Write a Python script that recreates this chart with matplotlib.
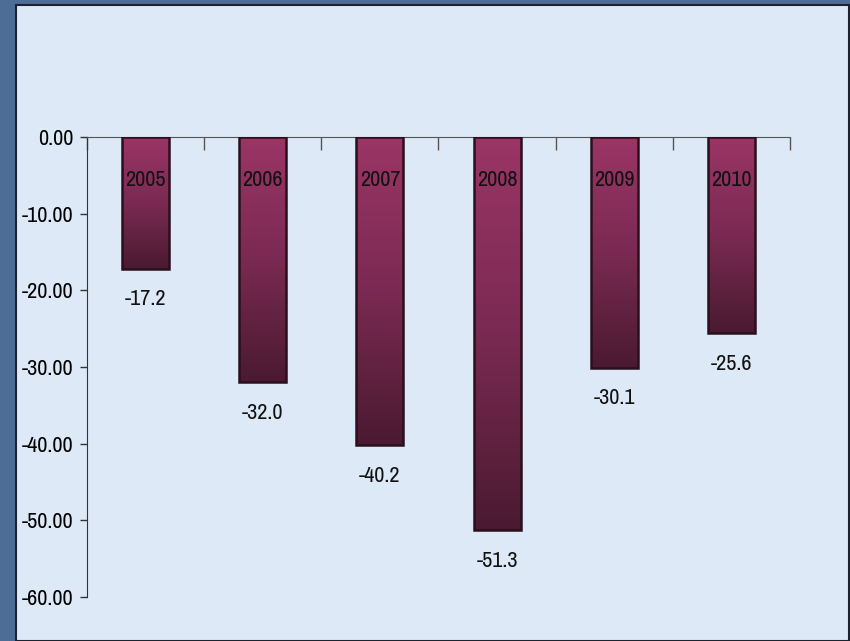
import numpy as np
import matplotlib.pyplot as plt
from matplotlib.patches import Rectangle
from matplotlib import font_manager

# dados do grafico
anos = ['2005', '2006', '2007', '2008', '2009', '2010']
valores = [-17.2, -32.0, -40.2, -51.3, -30.1, -25.6]
yticks = [0, -10, -20, -30, -40, -50, -60]

# fonte estreita, parecida com Arial Narrow
nomes = {f.name for f in font_manager.fontManager.ttflist}
fonte = 'Liberation Sans'
for cand in ['Liberation Sans Narrow', 'Arial Narrow', 'Archivo Narrow', 'Roboto Condensed']:
    if cand in nomes:
        fonte = cand
        break
plt.rcParams['font.family'] = [fonte, 'DejaVu Sans']
tam = 16 if fonte != 'Liberation Sans' else 13

fig = plt.figure(figsize=(8.5, 6.41), dpi=100)
fig.patch.set_facecolor('#4d6c96')

# painel claro de fundo
painel = Rectangle((16 / 850, 0), (849 - 16) / 850, 1 - 5 / 641,
                   transform=fig.transFigure, facecolor='#dde9f6',
                   edgecolor='#1c2230', linewidth=1.5, zorder=-5)
fig.patches.append(painel)

ax = fig.add_axes([87 / 850, 1 - 597 / 641, (790 - 87) / 850, (597 - 137) / 641])
ax.set_zorder(2)
ax.set_facecolor('none')

x = np.arange(len(anos))
barras = ax.bar(x, valores, width=0.4, color='none', edgecolor='#2a0f1c',
                linewidth=1.8, zorder=3)

# gradiente em cada barra (rosa em cima, escuro embaixo)
grad = np.linspace(0, 1, 256).reshape(-1, 1)
cmap = plt.matplotlib.colors.LinearSegmentedColormap.from_list(
    'vinho', ['#9b3566', '#7a2a52', '#4a1a31'])
for b in barras:
    x0, w, h = b.get_x(), b.get_width(), b.get_height()
    im = ax.imshow(grad, cmap=cmap, aspect='auto', zorder=2,
                   extent=(x0, x0 + w, h, 0), origin='upper')
    im.set_clip_path(b)

for xi, v, a in zip(x, valores, anos):
    ax.annotate(a, (xi, 0), xytext=(0, -31), textcoords='offset points',
                ha='center', va='center', fontsize=tam, color='#111111', zorder=4)
    ax.annotate(f'{v:.1f}', (xi, v), xytext=(0, -22), textcoords='offset points',
                ha='center', va='center', fontsize=tam, color='#111111', zorder=4)

ax.set_xlim(-0.5, len(anos) - 0.5)
ax.set_ylim(-60, 0)
ax.set_yticks(yticks)
ax.set_yticklabels([f'{t:.2f}' for t in yticks], fontsize=tam)

ax.xaxis.set_ticks_position('top')
ax.set_xticks(np.arange(len(anos) + 1) - 0.5)
ax.set_xticklabels([])
ax.tick_params(axis='x', direction='in', length=9, color='#555555', width=1)
ax.tick_params(axis='y', direction='out', length=5, color='#333333', width=1, pad=5)

ax.spines['bottom'].set_visible(False)
ax.spines['right'].set_visible(False)
ax.spines['top'].set_color('#555555')
ax.spines['left'].set_color('#333333')

fig.savefig('out.png', dpi=100, facecolor=fig.get_facecolor())
